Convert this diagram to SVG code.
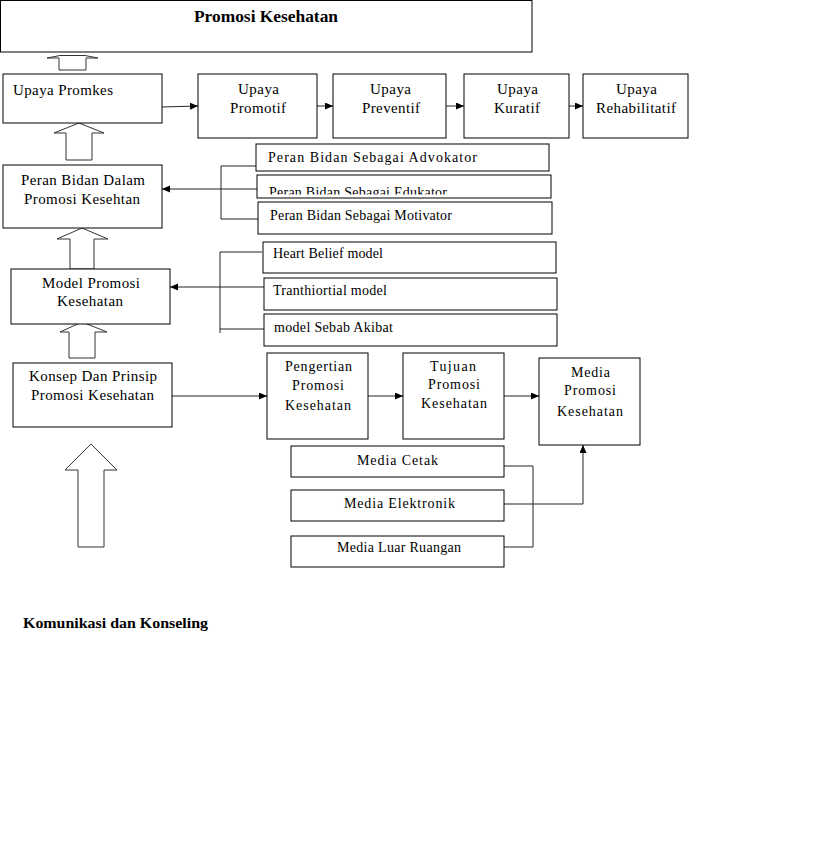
<svg xmlns="http://www.w3.org/2000/svg" width="819" height="865" viewBox="0 0 819 865">
<style>
  .box { fill: #fff; stroke: #000; stroke-width: 1; }
  .t { font-family: "Liberation Serif", "Times New Roman", serif; fill: #000; }
  .m { font-size: 15px; }
  .s { font-size: 14px; }
  .n { font-size: 14px; }
  .b { font-weight: bold; }
  .ln { fill: none; stroke: #222; stroke-width: 1; }
  .arr { fill: none; stroke: #222; stroke-width: 1; marker-end: url(#ah); }
  .blk { fill: #fff; stroke: #333; stroke-width: 1; }
</style>
<defs>
  <marker id="ah" markerUnits="userSpaceOnUse" markerWidth="9" markerHeight="8" refX="8" refY="3.5" orient="auto">
    <path d="M0,0 L8,3.5 L0,7 z" fill="#000"/>
  </marker>
  <clipPath id="clipEdu">
    <rect x="257" y="175" width="294" height="19.5"/>
  </clipPath>
</defs>
<rect width="819" height="865" fill="#fff"/>

<g id="block-arrows">
  <polygon class="blk" points="59,70 59,58 47,58 60,55.5 85,55.5 98,58 86,58 86,70"/>
  <polygon class="blk" points="79,123 104,133 92,133 92,160 66,160 66,133 54,133"/>
  <polygon class="blk" points="82,228 108,239 94,239 94,269 70,269 70,239 57,239"/>
  <polygon class="blk" points="82,322 107,332 95,332 95,358 69,358 69,332 60,332"/>
  <polygon class="blk" points="91,444 117,470 104,470 104,547 78,547 78,470 65,470"/>
</g>

<g id="connectors">
  <line class="arr" x1="162" y1="107" x2="198" y2="106"/>
  <line class="arr" x1="317" y1="106" x2="333" y2="106"/>
  <line class="arr" x1="446" y1="106" x2="464" y2="106"/>
  <line class="arr" x1="569" y1="106" x2="583" y2="106"/>
  <polyline class="ln" points="256,166 221,166 221,219 258,219"/>
  <line class="arr" x1="257" y1="189" x2="162" y2="189"/>
  <polyline class="ln" points="262,252 220,252 220,333"/>
  <line class="ln" x1="220" y1="329" x2="264" y2="329"/>
  <line class="arr" x1="264" y1="287" x2="170" y2="287"/>
  <line class="arr" x1="172" y1="396" x2="267" y2="396"/>
  <line class="arr" x1="368" y1="396" x2="403" y2="396"/>
  <line class="arr" x1="504" y1="396" x2="539" y2="396"/>
  <polyline class="ln" points="504,466 533,466 533,547 504,547"/>
  <polyline class="arr" points="504,504 583,504 583,445"/>
</g>

<g id="promosi-kesehatan">
  <rect class="box" x="0.5" y="0.5" width="531.5" height="51.5"/>
  <text class="t b" x="194" y="22" font-size="17" textLength="144" lengthAdjust="spacingAndGlyphs">Promosi Kesehatan</text>
</g>

<g id="upaya-promkes">
  <rect class="box" x="3" y="74" width="159" height="49"/>
  <text class="t m" x="13" y="95" textLength="100" lengthAdjust="spacing">Upaya Promkes</text>
</g>

<g id="upaya-promotif">
  <rect class="box" x="198" y="74" width="119" height="64"/>
  <text class="t m" x="238" y="94" textLength="41" lengthAdjust="spacing">Upaya</text>
  <text class="t m" x="230" y="113" textLength="56" lengthAdjust="spacing">Promotif</text>
</g>

<g id="upaya-preventif">
  <rect class="box" x="333" y="74" width="113" height="64"/>
  <text class="t m" x="370" y="94" textLength="41" lengthAdjust="spacing">Upaya</text>
  <text class="t m" x="362" y="113" textLength="58" lengthAdjust="spacing">Preventif</text>
</g>

<g id="upaya-kuratif">
  <rect class="box" x="464" y="74" width="105" height="64"/>
  <text class="t m" x="497" y="94" textLength="41" lengthAdjust="spacing">Upaya</text>
  <text class="t m" x="494" y="113" textLength="46" lengthAdjust="spacing">Kuratif</text>
</g>

<g id="upaya-rehabilitatif">
  <rect class="box" x="583" y="74" width="105" height="64"/>
  <text class="t m" x="616" y="94" textLength="41" lengthAdjust="spacing">Upaya</text>
  <text class="t m" x="596" y="113" textLength="80" lengthAdjust="spacing">Rehabilitatif</text>
</g>

<g id="peran-bidan">
  <rect class="box" x="3" y="165" width="159" height="63"/>
  <text class="t m" x="21" y="185" textLength="124" lengthAdjust="spacing">Peran Bidan Dalam</text>
  <text class="t m" x="24" y="204" textLength="116" lengthAdjust="spacing">Promosi Kesehtan</text>
</g>

<g id="peran-advokator">
  <rect class="box" x="256" y="144" width="293" height="27"/>
  <text class="t s" x="268" y="162" textLength="209" lengthAdjust="spacing">Peran Bidan Sebagai Advokator</text>
</g>

<g id="peran-edukator">
  <rect class="box" x="257" y="175" width="294" height="23"/>
  <text class="t s" x="269" y="197" textLength="178" lengthAdjust="spacing" clip-path="url(#clipEdu)">Peran Bidan Sebagai Edukator</text>
</g>

<g id="peran-motivator">
  <rect class="box" x="258" y="202" width="294" height="32"/>
  <text class="t s" x="270" y="220" textLength="182" lengthAdjust="spacing">Peran Bidan Sebagai Motivator</text>
</g>

<g id="model-promosi">
  <rect class="box" x="11" y="269" width="159" height="55"/>
  <text class="t m" x="42" y="288" textLength="98" lengthAdjust="spacing">Model Promosi</text>
  <text class="t m" x="57" y="306" textLength="66" lengthAdjust="spacing">Kesehatan</text>
</g>

<g id="heart-belief">
  <rect class="box" x="263" y="242" width="293" height="31"/>
  <text class="t s" x="273" y="258" textLength="110" lengthAdjust="spacing">Heart Belief model</text>
</g>

<g id="tranthiortial">
  <rect class="box" x="264" y="278" width="293" height="32"/>
  <text class="t s" x="273" y="295" textLength="114" lengthAdjust="spacing">Tranthiortial model</text>
</g>

<g id="sebab-akibat">
  <rect class="box" x="264" y="314" width="293" height="32"/>
  <text class="t s" x="274" y="332" textLength="119" lengthAdjust="spacing">model Sebab Akibat</text>
</g>

<g id="konsep-prinsip">
  <rect class="box" x="13" y="363" width="159" height="64"/>
  <text class="t m" x="29" y="381" textLength="128" lengthAdjust="spacing">Konsep Dan Prinsip</text>
  <text class="t m" x="31" y="400" textLength="123" lengthAdjust="spacing">Promosi Kesehatan</text>
</g>

<g id="pengertian">
  <rect class="box" x="267" y="353" width="101" height="86"/>
  <text class="t n" x="285" y="371" textLength="67" lengthAdjust="spacing">Pengertian</text>
  <text class="t n" x="292" y="390" textLength="52" lengthAdjust="spacing">Promosi</text>
  <text class="t n" x="285" y="410" textLength="66" lengthAdjust="spacing">Kesehatan</text>
</g>

<g id="tujuan">
  <rect class="box" x="403" y="353" width="101" height="86"/>
  <text class="t n" x="430" y="371" textLength="46" lengthAdjust="spacing">Tujuan</text>
  <text class="t n" x="428" y="389" textLength="52" lengthAdjust="spacing">Promosi</text>
  <text class="t n" x="421" y="408" textLength="66" lengthAdjust="spacing">Kesehatan</text>
</g>

<g id="media-promosi">
  <rect class="box" x="539" y="358" width="101" height="87"/>
  <text class="t n" x="571" y="377" textLength="39" lengthAdjust="spacing">Media</text>
  <text class="t n" x="564" y="395" textLength="52" lengthAdjust="spacing">Promosi</text>
  <text class="t n" x="557" y="416" textLength="66" lengthAdjust="spacing">Kesehatan</text>
</g>

<g id="media-cetak">
  <rect class="box" x="291" y="446" width="213" height="31"/>
  <text class="t n" x="357" y="465" textLength="81" lengthAdjust="spacing">Media Cetak</text>
</g>

<g id="media-elektronik">
  <rect class="box" x="291" y="490" width="213" height="31"/>
  <text class="t n" x="344" y="508" textLength="111" lengthAdjust="spacing">Media Elektronik</text>
</g>

<g id="media-luar-ruangan">
  <rect class="box" x="291" y="536" width="213" height="31"/>
  <text class="t n" x="337" y="552" textLength="124" lengthAdjust="spacing">Media Luar Ruangan</text>
</g>

<g id="komunikasi-konseling">
  <text class="t b" x="23" y="628" font-size="14" textLength="185" lengthAdjust="spacingAndGlyphs">Komunikasi dan Konseling</text>
</g>
</svg>
